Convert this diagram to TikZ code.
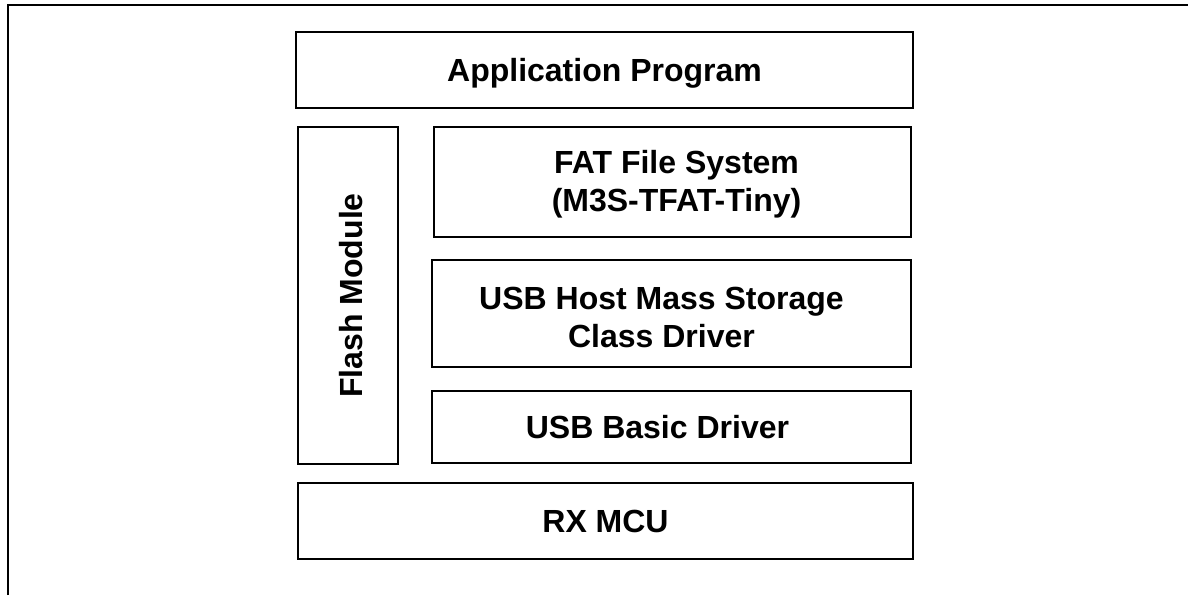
\documentclass[tikz,border=0pt]{standalone}
\usepackage{fontspec}
\setmainfont{Liberation Sans}
\begin{document}
\begin{tikzpicture}[x=1pt,y=-1pt,
  box/.style={draw=black, line width=1.8pt, rectangle, inner sep=0pt, fill=white},
  lbl/.style={font=\fontsize{32}{38}\selectfont\bfseries, align=center, inner sep=0pt}]
\useasboundingbox (0,0) rectangle (1188,595);
\coordinate (fa) at (8,595);
\coordinate (fb) at (8,5);
\coordinate (fc) at (1188,5);
\draw[line width=2.2pt] (fa) -- (fb) -- (fc);

\node[box, minimum width=617pt, minimum height=76pt] (app) at (604.5,70) {};
\node[box, minimum width=100pt, minimum height=337pt] (flash) at (348,295.5) {};
\node[box, minimum width=477pt, minimum height=110pt] (fat) at (672.5,182) {};
\node[box, minimum width=479pt, minimum height=107pt] (host) at (671.5,313.5) {};
\node[box, minimum width=479pt, minimum height=72pt] (basic) at (671.5,427) {};
\node[box, minimum width=615pt, minimum height=76pt] (rx) at (605.5,521) {};

\node[lbl] (tapp) at ([yshift=-3pt]app.center) {Application Program};
\node[lbl, rotate=90] (tflash) at ([xshift=3pt]flash.center) {Flash Module};
\node[lbl] (tfat) at ([xshift=4pt,yshift=-2pt]fat.center) {FAT File System\\(M3S-TFAT-Tiny)};
\node[lbl] (thost) at ([xshift=-10pt,yshift=-4pt]host.center) {USB Host Mass Storage\\Class Driver};
\node[lbl] (tbasic) at ([xshift=-14pt]basic.center) {USB Basic Driver};
\node[lbl] (trx) at (rx.center) {RX MCU};
\end{tikzpicture}
\end{document}
